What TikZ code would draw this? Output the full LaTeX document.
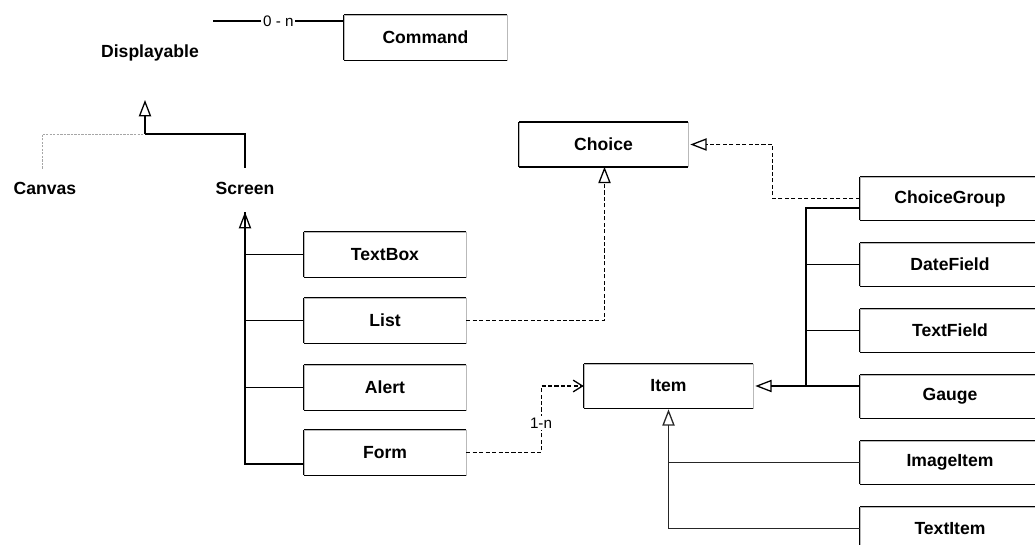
\documentclass[tikz,border=0pt]{standalone}
\usepackage{fontspec}
\setmainfont{Liberation Sans}
\usetikzlibrary{arrows.meta,calc}

\tikzset{
  boxedge/.style={draw=black, line width=1.3pt, -, line cap=square},
  umlbox/.style={draw=gray!55, line width=0.5pt, inner sep=0pt,
    font=\bfseries\fontsize{15}{18}\selectfont,
    append after command={
      (\tikzlastnode.north east) edge[boxedge] (\tikzlastnode.north west)
      (\tikzlastnode.north west) edge[boxedge] (\tikzlastnode.south west)
      (\tikzlastnode.south west) edge[boxedge] (\tikzlastnode.south east)}},
  leftbox/.style={umlbox, minimum width=4.86cm, minimum height=1.35cm},
  midbox/.style={umlbox, minimum width=5.07cm, minimum height=1.32cm},
  rightbox/.style={umlbox, minimum width=5.4cm, minimum height=1.29cm},
  plain/.style={font=\bfseries\fontsize{15}{18}\selectfont, inner sep=0pt},
  mult/.style={font=\fontsize{13}{15}\selectfont, fill=white, inner sep=1.5pt},
  gen/.style={draw=black, line width=1.3pt},
  thinline/.style={draw=black!85, line width=1pt},
  faint/.style={draw=gray!70, line width=0.7pt, dash pattern=on 2pt off 1pt},
  real/.style={draw=black, line width=1.1pt, dash pattern=on 3.5pt off 2pt},
  hollow/.style={-{Triangle[open, length=14pt, width=10.5pt, line width=1.1pt]}},
  openhead/.style={-{Straight Barb[length=8pt, width=10pt, line width=1.1pt]}}
}

\begin{document}
\begin{tikzpicture}[x=0.03cm, y=-0.03cm]
\useasboundingbox (0,0) rectangle (1035,545);
\clip (0,0) rectangle (1035,545);

% top hierarchy: Displayable, Canvas, Screen
\node[plain] (disp) at (150,53) {Displayable};
\node[plain] (canvas) at (45,188) {Canvas};
\node[plain] (screen) at (245,188) {Screen};
\coordinate (dispTip) at (145,100);
\coordinate (dispBar) at (145,134);

\node[umlbox, minimum width=4.89cm, minimum height=1.35cm] (command) at (425.5,37.5) {Command};
\coordinate (cmdEnd) at (213,21);
\draw[gen, line width=1pt] (cmdEnd) -- node[mult]{0 - n} (command.west |- cmdEnd);

\draw[faint] ($(canvas.north)+(-3,-13)$) |- (dispBar);
\draw[gen] ($(screen.north)+(0,-14)$) |- (dispBar);
\draw[gen, hollow] (dispBar) -- (dispTip);

% Screen subclasses
\node[leftbox] (textbox) at (385,254.5) {TextBox};
\node[leftbox] (list)    at (385,320.5) {List};
\node[leftbox] (alert)   at (385,387.5) {Alert};
\node[leftbox] (form)    at (385,452.5) {Form};

\coordinate (sTop) at (245,212);
\coordinate (sBot) at (245,464);
\draw[gen] (form.west |- sBot) -- (sBot) -- (sTop);
\draw[gen, hollow] ($(sTop)+(0,25)$) -- (sTop);
\draw[gen] (textbox.west) -- (textbox.west -| sTop);
\draw[gen] (list.west) -- (list.west -| sTop);
\draw[gen] (alert.west) -- (alert.west -| sTop);

% Choice and Item
\node[midbox] (choice) at (603.5,144.5) {Choice};
\node[midbox] (item)   at (668.5,386) {Item};

\draw[real, hollow] (list.east) -| ($(choice.south)+(1,0)$);

\draw[real, openhead] (form.east) -- ++(75,0) |- (item.west);
\node[mult] at (541,423) {1-n};

% Item subclasses
\node[rightbox] (choicegroup) at (950,198.5) {ChoiceGroup};
\node[rightbox] (datefield)   at (950,264.5) {DateField};
\node[rightbox] (textfield)   at (950,330.5) {TextField};
\node[rightbox] (gauge)       at (950,396.5) {Gauge};
\node[rightbox] (imageitem)   at (950,462.5) {ImageItem};
\node[rightbox] (textitem)    at (950,528.5) {TextItem};

\draw[real, hollow] (choicegroup.west) -- ++(-87,0) |- ($(choice.east)+(2,0)$);

\coordinate (iTop) at (806,208);
\coordinate (iBot) at (806,386);
\draw[gen] (choicegroup.west |- iTop) -- (iTop) -- (iBot);
\draw[gen] (datefield.west) -- (datefield.west -| iTop);
\draw[gen] (textfield.west) -- (textfield.west -| iTop);
\draw[gen, hollow] (gauge.west |- item.east) -- ($(item.east)+(2,0)$);

\draw[thinline] (imageitem.west) -- (imageitem.west -| item.south);
\draw[thinline] (textitem.west) -| ($(item.south)+(0,20)$);
\draw[thinline, hollow] ($(item.south)+(0,22)$) -- ($(item.south)+(0,1)$);
\end{tikzpicture}
\end{document}
